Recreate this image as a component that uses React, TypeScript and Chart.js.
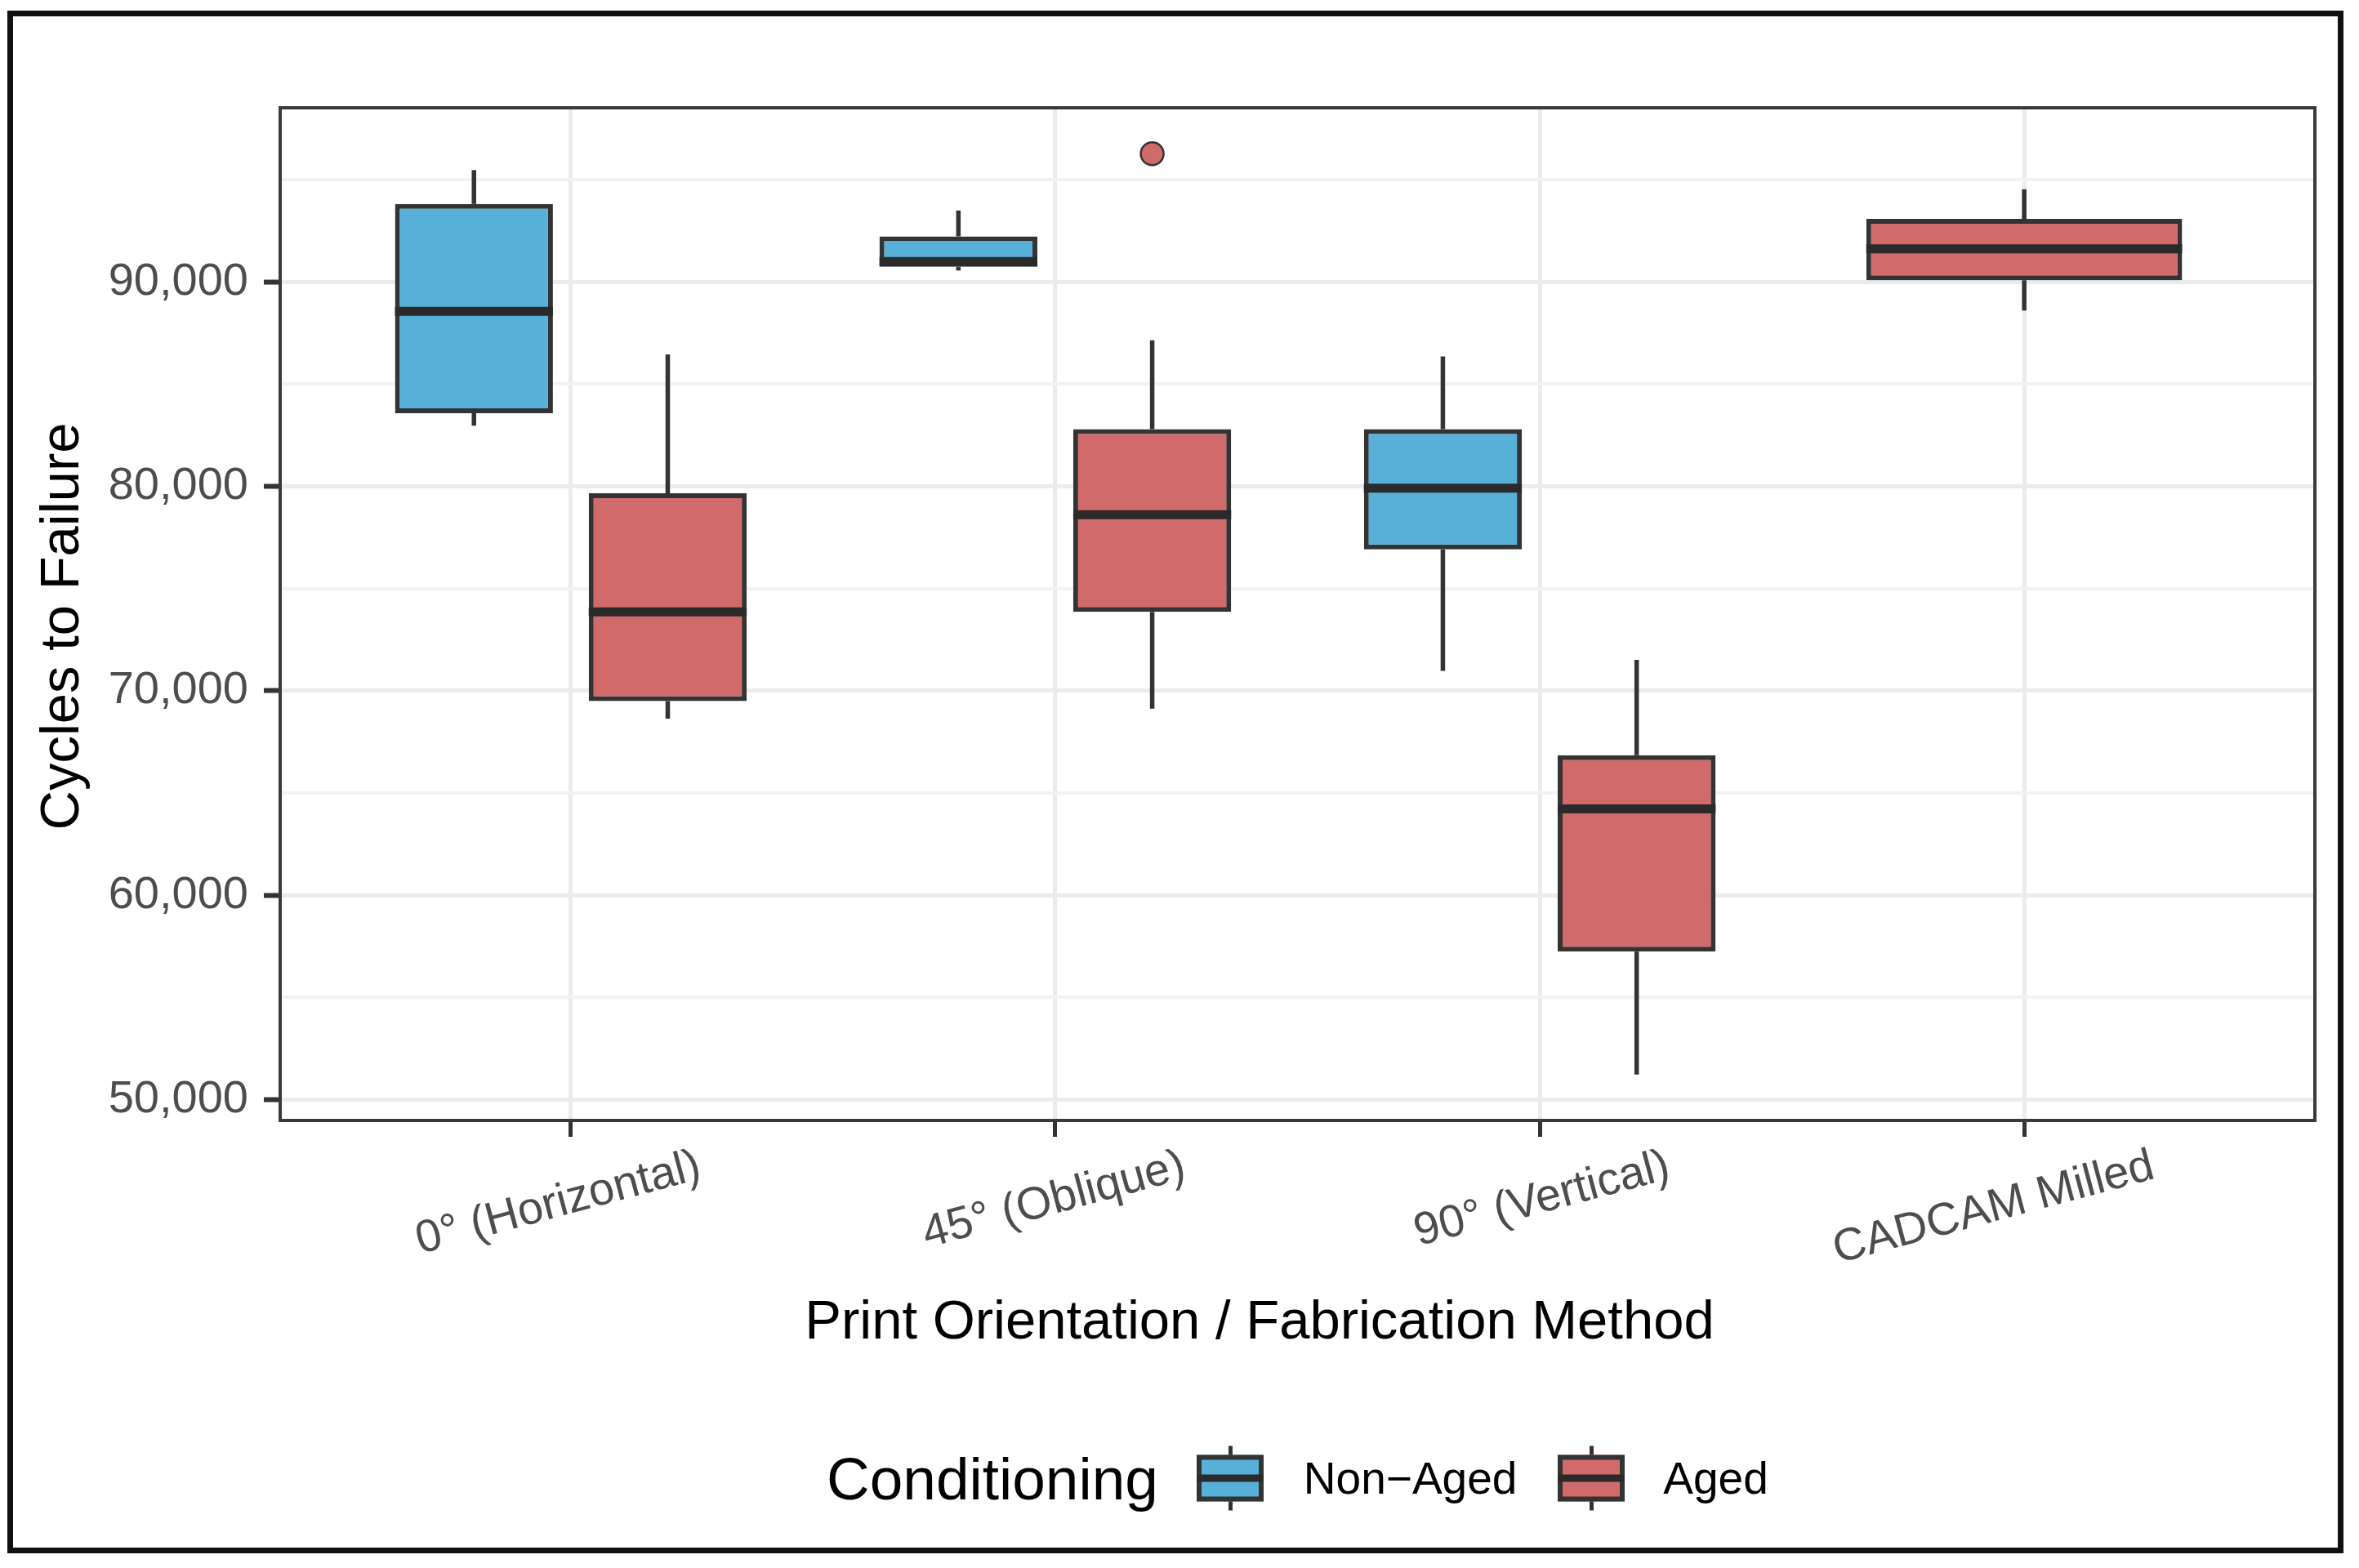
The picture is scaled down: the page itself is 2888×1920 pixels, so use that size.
import { useEffect, useRef } from 'react';
import { Chart, registerables } from 'chart.js';

Chart.register(...registerables);

const categories = ['0° (Horizontal)', '45° (Oblique)', '90° (Vertical)', 'CADCAM Milled'];

// Non-Aged box stats (CADCAM has no non-aged group)
const naMin = [82970, 90560, 70970, null];
const naQ1 = [83580, 90740, 76920, null];
const naMed = [88560, 91000, 79910, null];
const naQ3 = [93820, 92230, 82800, null];
const naMax = [95470, 93500, 86350, null];
const naOut: number[][] = [[], [], [], []];

// Aged box stats
const agMin = [68640, 69130, 51230, 88600];
const agQ1 = [69500, 73860, 57240, 90080];
const agMed = [73860, 78610, 64220, 91620];
const agQ3 = [79660, 82800, 66850, 93090];
const agMax = [86450, 87140, 71510, 94530];
const agOut: number[][] = [[], [96270], [], []];

const yMajor = [50000, 60000, 70000, 80000, 90000];
const yMinor = [55000, 65000, 75000, 85000, 95000];

const BLUE = '#56B0D8';
const RED = '#D16A6B';
const INK = '#333333';
const FONT = '"Liberation Sans", Arial, sans-serif';

const stats = [
  { min: naMin, q1: naQ1, med: naMed, q3: naQ3, max: naMax, out: naOut, color: BLUE },
  { min: agMin, q1: agQ1, med: agMed, q3: agQ3, max: agMax, out: agOut, color: RED },
];

const boxPlugin = {
  id: 'boxWhiskers',
  afterDatasetsDraw(chart: any) {
    const ctx = chart.ctx;
    const y = chart.scales.y;
    ctx.save();
    stats.forEach((st, di) => {
      const meta = chart.getDatasetMeta(di);
      meta.data.forEach((bar: any, i: number) => {
        if (st.med[i] == null) return;
        const { x, width } = bar.getProps(['x', 'width'], true);
        ctx.strokeStyle = INK;
        ctx.lineCap = 'butt';
        ctx.lineWidth = 5.5;
        ctx.beginPath();
        ctx.moveTo(x, y.getPixelForValue(st.q3[i]));
        ctx.lineTo(x, y.getPixelForValue(st.max[i]));
        ctx.moveTo(x, y.getPixelForValue(st.q1[i]));
        ctx.lineTo(x, y.getPixelForValue(st.min[i]));
        ctx.stroke();
        ctx.strokeStyle = '#2A2A2A';
        ctx.lineWidth = 11;
        ctx.beginPath();
        const ym = y.getPixelForValue(st.med[i]);
        ctx.moveTo(x - width / 2, ym);
        ctx.lineTo(x + width / 2, ym);
        ctx.stroke();
        st.out[i].forEach((v) => {
          ctx.beginPath();
          ctx.arc(x, y.getPixelForValue(v), 14, 0, Math.PI * 2);
          ctx.fillStyle = st.color;
          ctx.fill();
          ctx.lineWidth = 2.5;
          ctx.strokeStyle = INK;
          ctx.stroke();
        });
      });
    });
    ctx.restore();
  },
  afterDraw(chart: any) {
    const { ctx, chartArea } = chart;
    ctx.save();
    ctx.strokeStyle = '#3A3A3A';
    ctx.lineWidth = 4;
    ctx.strokeRect(chartArea.left, chartArea.top, chartArea.right - chartArea.left, chartArea.bottom - chartArea.top);
    ctx.restore();
  },
};

const isMajor = (c: any) => c.tick && yMajor.includes(c.tick.value);

const LegendKey = ({ color }: { color: string }) => (
  <div style={{ position: 'relative', width: 82, height: 79 }}>
    <div style={{ position: 'absolute', left: 39, top: 0, width: 5, height: 12, background: INK }} />
    <div style={{ position: 'absolute', left: 39, bottom: 0, width: 5, height: 12, background: INK }} />
    <div
      style={{
        position: 'absolute', left: 0, top: 11, width: 82, height: 57, boxSizing: 'border-box',
        background: color, border: `6px solid ${INK}`,
      }}
    />
    <div style={{ position: 'absolute', left: 0, top: 35, width: 82, height: 9, background: '#2A2A2A' }} />
  </div>
);

const App = () => {
  const ref = useRef<HTMLCanvasElement>(null);
  const chart = useRef<Chart>();

  useEffect(() => {
    if (!ref.current) return;
    Chart.defaults.font.family = FONT;
    chart.current = new Chart(ref.current, {
      type: 'bar',
      data: {
        datasets: stats.map((st, di) => ({
          label: di === 0 ? 'Non\u2212Aged' : 'Aged',
          data: categories.map((_, i) => ({ x: i, y: st.q1[i] == null ? null : [st.q1[i], st.q3[i]] })),
          backgroundColor: st.color,
          borderColor: INK,
          borderWidth: 6,
          borderSkipped: false,
          skipNull: true,
          barPercentage: 0.815,
          categoryPercentage: 0.8,
        })) as any,
      },
      options: {
        animation: false,
        responsive: true,
        maintainAspectRatio: false,
        events: [],
        layout: { padding: { left: 20, top: 132, right: 54, bottom: 230 } },
        plugins: { legend: { display: false }, tooltip: { enabled: false } },
        scales: {
          x: {
            type: 'linear',
            min: -0.6,
            max: 3.6,
            bounds: 'data',
            offset: false,
            afterBuildTicks: (s: any) => { s.ticks = categories.map((_, i) => ({ value: i })); },
            afterFit: (s: any) => { s.height = 318; },
            ticks: {
              callback: (v: any) => categories[v],
              autoSkip: false,
              minRotation: 15,
              maxRotation: 15,
              labelOffset: 158,
              padding: 3,
              color: '#4D4D4D',
              font: { size: 56 },
            },
            grid: { color: '#EBEBEB', lineWidth: 5, tickLength: 20, tickColor: INK, tickWidth: 5, offset: false },
            border: { display: false },
          },
          y: {
            type: 'linear',
            min: 48980,
            max: 98520,
            bounds: 'data',
            afterBuildTicks: (s: any) => {
              s.ticks = [...yMajor, ...yMinor].sort((a, b) => a - b).map((v) => ({ value: v }));
            },
            afterFit: (s: any) => { s.width = 323; },
            ticks: {
              callback: (v: any) => (yMajor.includes(v) ? Number(v).toLocaleString('en-US') : ''),
              padding: 19,
              color: '#4D4D4D',
              font: { size: 56 },
            },
            grid: {
              color: (c: any) => (isMajor(c) ? '#EBEBEB' : '#F2F2F2'),
              lineWidth: (c: any) => (isMajor(c) ? 5 : 4),
              tickLength: 20,
              tickColor: (c: any) => (isMajor(c) ? INK : 'rgba(0,0,0,0)'),
              tickWidth: 6,
            },
            border: { display: false },
          },
        },
      } as any,
      plugins: [boxPlugin],
    });
    return () => {
      if (chart.current) chart.current.destroy();
    };
  }, []);

  return (
    <div style={{ position: 'fixed', left: 0, top: 0, width: 2888, height: 1920, background: '#fff', fontFamily: FONT }}>
      <div style={{ position: 'absolute', left: 0, top: 0, width: 2888, height: 1920 }}>
        <canvas ref={ref}></canvas>
      </div>
      <div
        style={{
          position: 'absolute', left: 9, top: 13, width: 2860, height: 1889, boxSizing: 'border-box',
          border: '7px solid #111', pointerEvents: 'none',
        }}
      />
      <div
        style={{
          position: 'absolute', left: 72, top: 767, transform: 'translate(-50%, -50%) rotate(-90deg)',
          fontSize: 67, lineHeight: 1, whiteSpace: 'nowrap', color: '#000',
        }}
      >
        Cycles to Failure
      </div>
      <div
        style={{
          position: 'absolute', left: 1542, top: 1582, transform: 'translateX(-50%)',
          fontSize: 67, lineHeight: 1, whiteSpace: 'nowrap', color: '#000',
        }}
      >
        Print Orientation / Fabrication Method
      </div>
      <div
        style={{
          position: 'absolute', left: 1012, top: 1810, transform: 'translateY(-50%)', display: 'flex',
          alignItems: 'center', color: '#000', lineHeight: 1,
        }}
      >
        <span style={{ fontSize: 73 }}>Conditioning</span>
        <div style={{ marginLeft: 47 }}><LegendKey color={BLUE} /></div>
        <span style={{ fontSize: 55, marginLeft: 49 }}>Non{'\u2212'}Aged</span>
        <div style={{ marginLeft: 50 }}><LegendKey color={RED} /></div>
        <span style={{ fontSize: 55, marginLeft: 47 }}>Aged</span>
      </div>
    </div>
  );
};

export default App;
